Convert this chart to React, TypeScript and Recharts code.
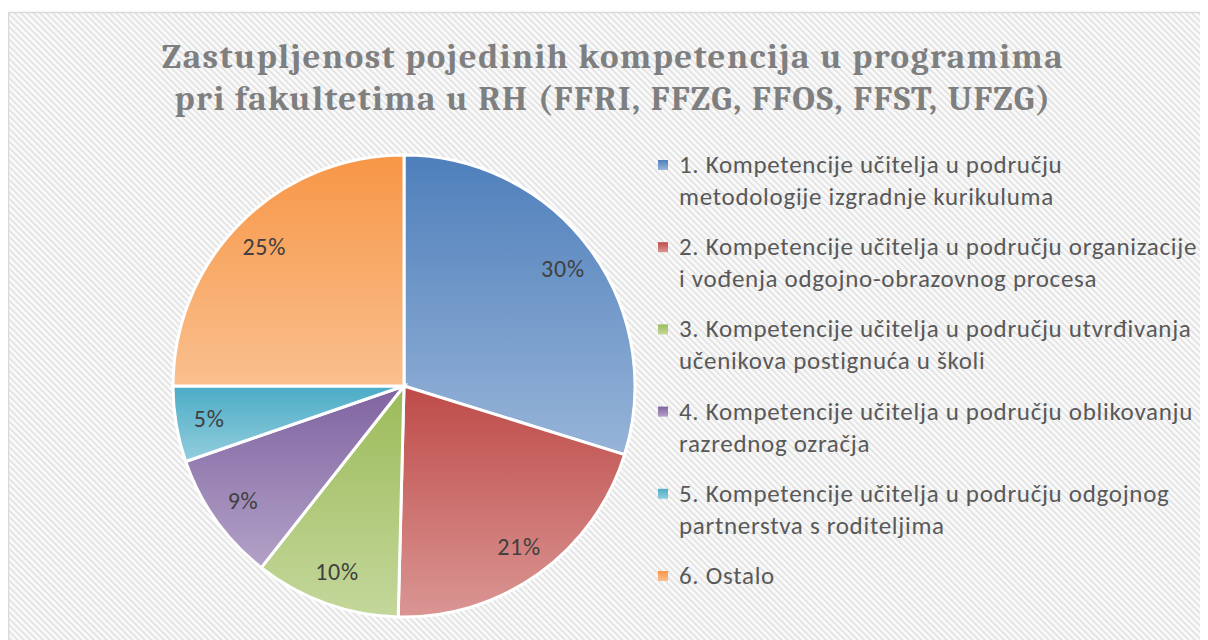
import React from "react";
import { PieChart, Pie, Cell, Legend } from "recharts";

const categories = [
  "1. Kompetencije učitelja u području metodologije izgradnje kurikuluma",
  "2. Kompetencije učitelja u području organizacije i vođenja odgojno-obrazovnog procesa",
  "3. Kompetencije učitelja u području utvrđivanja učenikova postignuća u školi",
  "4. Kompetencije učitelja u području oblikovanju razrednog ozračja",
  "5. Kompetencije učitelja u području odgojnog partnerstva s roditeljima",
  "6. Ostalo",
];
const values = [29.8, 20.6, 10.2, 9.1, 5.3, 25.0];
const legendLines = [
  ["1. Kompetencije učitelja u području", "metodologije izgradnje kurikuluma"],
  ["2. Kompetencije učitelja u području organizacije", "i vođenja odgojno-obrazovnog procesa"],
  ["3. Kompetencije učitelja u području utvrđivanja", "učenikova postignuća u školi"],
  ["4. Kompetencije učitelja u području oblikovanju", "razrednog ozračja"],
  ["5. Kompetencije učitelja u području odgojnog", "partnerstva s roditeljima"],
  ["6. Ostalo"],
];
const titleLines = [
  "Zastupljenost pojedinih kompetencija u programima",
  "pri fakultetima u RH (FFRI, FFZG, FFOS, FFST, UFZG)",
];
const darkColors = ["#4E7FBB", "#BE4B48", "#9BBB59", "#7F63A1", "#4BACC6", "#F79646"];
const lightColors = ["#97B4D8", "#DA9694", "#C4D79B", "#B3A2C7", "#93CDDD", "#FAC08F"];

const data = categories.map((name, i) => ({ name, value: values[i] }));

const BODY_FONT = "Carlito, Calibri, Lato, sans-serif";
const RAD = Math.PI / 180;

const renderLabel = (props: any) => {
  const { cx, cy, midAngle, outerRadius, value } = props;
  const r = outerRadius * 0.855;
  const x = cx + r * Math.cos(-midAngle * RAD);
  const y = cy + r * Math.sin(-midAngle * RAD);
  return (
    <text
      x={x}
      y={y}
      textAnchor="middle"
      dominantBaseline="central"
      fill="#404040"
      fontSize={24}
      letterSpacing={0.8}
      fontFamily={BODY_FONT}
    >
      {`${Math.round(value)}%`}
    </text>
  );
};

const LegendContent = (props: any) => {
  const payload = props.payload || [];
  return (
    <svg width={560} height={470} style={{ display: "block" }}>
      {payload.map((entry: any, i: number) => {
        const base = 33 + i * 82.2;
        return (
          <g key={i}>
            <rect x={8} y={base - 13} width={10} height={10} fill={`url(#lg${i})`} />
            {legendLines[i].map((line, j) => (
              <text
                key={j}
                x={29}
                y={base + j * 32}
                fill="#595959"
                fontSize={25}
                letterSpacing={0.7}
                fontFamily={BODY_FONT}
              >
                {line}
              </text>
            ))}
          </g>
        );
      })}
      <defs>
        {darkColors.map((c, i) => (
          <linearGradient key={i} id={`lg${i}`} x1="0" y1="0" x2="0" y2="1">
            <stop offset="0" stopColor={c} />
            <stop offset="1" stopColor={lightColors[i]} />
          </linearGradient>
        ))}
      </defs>
    </svg>
  );
};

export default function App() {
  return (
    <div style={{ position: "relative", width: 1200, height: 632, overflow: "hidden", background: "#fff" }}>
      <svg width={1200} height={632} style={{ position: "absolute", left: 0, top: 0 }}>
        <defs>
          <pattern
            id="stripes"
            width={4.5}
            height={4.5}
            patternUnits="userSpaceOnUse"
            patternTransform="rotate(-45)"
          >
            <rect width={4.5} height={4.5} fill="#fbfbfb" />
            <rect width={2} height={4.5} fill="#e4e4e4" />
          </pattern>
        </defs>
        <rect x={0.5} y={4.5} width={1300} height={700} fill="url(#stripes)" stroke="#d9d9d9" strokeWidth={1.5} />
        {titleLines.map((t, i) => (
          <text
            key={i}
            x={605}
            y={60 + i * 42}
            textAnchor="middle"
            fill="#7F7F7F"
            fontSize={35}
            fontWeight="bold"
            letterSpacing={1.5}
            fontFamily="Cambria, 'Liberation Serif', serif"
          >
            {t}
          </text>
        ))}
      </svg>
      <div style={{ position: "absolute", left: 0, top: 0 }}>
        <PieChart width={1200} height={632}>
          <defs>
            {darkColors.map((c, i) => (
              <linearGradient key={i} id={`sg${i}`} x1="0" y1="0" x2="0" y2="1">
                <stop offset="0" stopColor={c} />
                <stop offset="1" stopColor={lightColors[i]} />
              </linearGradient>
            ))}
          </defs>
          <Pie
            data={data}
            dataKey="value"
            nameKey="name"
            cx={391}
            cy={373}
            outerRadius={231}
            startAngle={90}
            endAngle={-270}
            stroke="#ffffff"
            strokeWidth={3}
            label={renderLabel}
            labelLine={false}
            isAnimationActive={false}
          >
            {data.map((d, i) => (
              <Cell key={i} fill={`url(#sg${i})`} />
            ))}
          </Pie>
          <Legend
            layout="vertical"
            content={<LegendContent />}
            wrapperStyle={{ position: "absolute", left: 642, top: 132, width: 560, height: 470 }}
          />
        </PieChart>
      </div>
    </div>
  );
}
